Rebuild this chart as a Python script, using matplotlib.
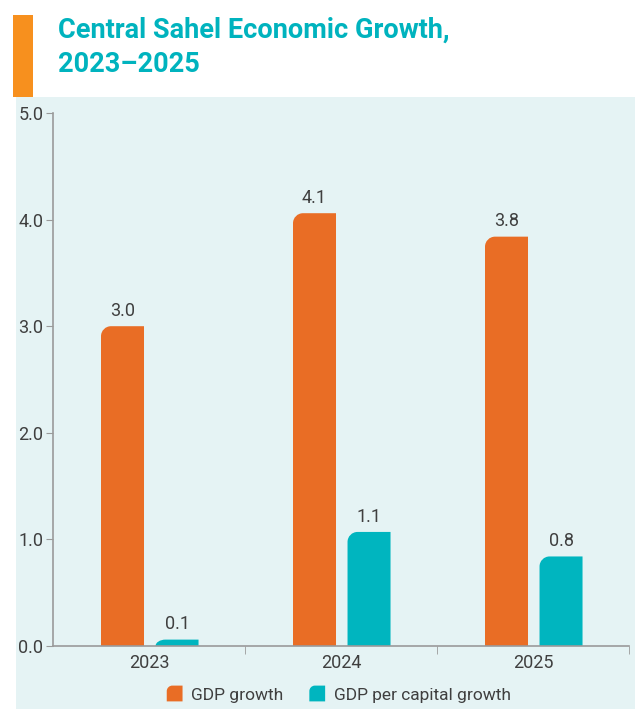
import matplotlib.pyplot as plt
from matplotlib.path import Path
from matplotlib.patches import PathPatch, Rectangle
from matplotlib.legend_handler import HandlerPatch

years = ["2023", "2024", "2025"]
gdp_growth = [3.0, 4.06, 3.84]
gdp_pc_growth = [0.06, 1.07, 0.84]
gdp_labels = ["3.0", "4.1", "3.8"]
pc_labels = ["0.1", "1.1", "0.8"]

orange = "#E96D25"
teal = "#00B5BF"
text_col = "#3F3F3F"
bg = "#E5F3F4"

plt.rcParams["font.family"] = ["Roboto", "DejaVu Sans"]

W, H = 639, 709
fig = plt.figure(figsize=(W / 100, H / 100), dpi=100)

# background panel + title bar
fig.patches.append(Rectangle((16 / W, 0), 619 / W, 1 - 97 / H, transform=fig.transFigure,
                             facecolor=bg, edgecolor="none", zorder=-5))
fig.patches.append(Rectangle((13 / W, 1 - 97 / H), 20 / W, 82 / H, transform=fig.transFigure,
                             facecolor="#F7901E", edgecolor="none", zorder=-5))
fig.text(58 / W, 1 - 47 / H, "Central Sahel Economic Growth,\n2023–2025", color="#00B3BE",
         fontsize=19.5, fontweight="bold", va="center", ha="left", linespacing=1.35)

ax_l, ax_r, ax_b, ax_t = 53, 629, 646, 113
ax = fig.add_axes([ax_l / W, 1 - ax_b / H, (ax_r - ax_l) / W, (ax_b - ax_t) / H])
ax.set_facecolor("none")


def rounded_path(x0, w, h, rx, ry):
    # bar with only the top-left corner rounded
    k = 0.5523
    verts = [(x0, 0), (x0 + w, 0), (x0 + w, h), (x0 + rx, h),
             (x0 + rx - k * rx, h), (x0, h - ry + k * ry), (x0, h - ry),
             (x0, 0), (x0, 0)]
    codes = [Path.MOVETO, Path.LINETO, Path.LINETO, Path.LINETO,
             Path.CURVE4, Path.CURVE4, Path.CURVE4, Path.LINETO, Path.CLOSEPOLY]
    return Path(verts, codes)


ax.set_xlim(-0.5, 2.5)
ax.set_ylim(0, 5)
xpx = (ax_r - ax_l) / 3
ypx = (ax_b - ax_t) / 5
radius = 10

x = range(len(years))
bw = 43 / xpx
b1 = ax.bar([i - 0.138 for i in x], gdp_growth, bw, color=orange, label="GDP growth")
b2 = ax.bar([i + 0.146 for i in x], gdp_pc_growth, bw, color=teal, label="GDP per capital growth")

for bars, col, labels in [(b1, orange, gdp_labels), (b2, teal, pc_labels)]:
    for bar, lab in zip(bars, labels):
        bar.set_visible(False)
        h = bar.get_height()
        ry = min(radius / ypx, h)
        p = PathPatch(rounded_path(bar.get_x(), bar.get_width(), h, radius / xpx, ry),
                      facecolor=col, edgecolor="none", zorder=2)
        ax.add_patch(p)
        ax.text(bar.get_x() + bar.get_width() / 2, h + 0.06, lab, ha="center", va="bottom",
                fontsize=13, color=text_col)

ax.set_yticks([0, 1, 2, 3, 4, 5])
ax.set_yticklabels(["0.0", "1.0", "2.0", "3.0", "4.0", "5.0"])
ax.set_xticks([0, 1, 2])
ax.set_xticklabels(years)
ax.set_xticks([0.5, 1.5, 2.5], minor=True)
ax.tick_params(axis="x", which="major", length=0, labelsize=13, labelcolor=text_col, pad=6)
ax.tick_params(axis="x", which="minor", length=6, color="#9A9A9A", direction="out")
ax.tick_params(axis="y", length=5, color="#9A9A9A", labelsize=13, labelcolor=text_col, pad=2)
for s in ["top", "right"]:
    ax.spines[s].set_visible(False)
for s in ["left", "bottom"]:
    ax.spines[s].set_color("#9A9A9A")
    ax.spines[s].set_linewidth(1.2)


class RoundHandler(HandlerPatch):
    def create_artists(self, legend, orig, xd, yd, width, height, fontsize, trans):
        s = height * 1.3
        path = rounded_path(xd + width - s, s, s, s * 0.35, s * 0.35)
        path = Path(path.vertices + [0, -yd - height * 0.15], path.codes)
        p = PathPatch(path, facecolor=orig.get_facecolor(), edgecolor="none")
        p.set_transform(trans)
        return [p]


leg = ax.legend(handles=[b1[0], b2[0]], labels=["GDP growth", "GDP per capital growth"],
                loc="center", bbox_to_anchor=(338 / W, 14 / H), bbox_transform=fig.transFigure,
                ncol=2, frameon=False, fontsize=12.5, handlelength=1.0, handletextpad=0.5,
                columnspacing=1.4, handler_map={b1[0]: RoundHandler(), b2[0]: RoundHandler()})
for t in leg.get_texts():
    t.set_color(text_col)
for h in leg.legend_handles:
    h.set_visible(True)

fig.savefig("out.png", dpi=100)
